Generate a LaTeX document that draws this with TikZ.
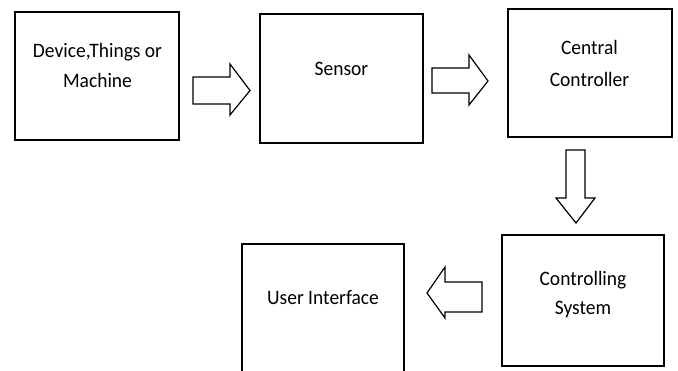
\documentclass[tikz,border=0pt]{standalone}
\usepackage{fontspec}
\usepackage{graphicx}
\setmainfont{Carlito}

% slightly narrowed lettering
\newcommand\nrw[1]{\scalebox{0.95}[1]{#1}}

\tikzset{
  box/.style={draw=black, line width=1.2pt, rectangle, inner sep=0pt},
  txt/.style={anchor=base, inner sep=0pt, text=black,
              font=\fontsize{20.5}{24}\selectfont},
  blockarrow/.style={draw=black, line width=1.2pt, fill=white, line join=miter},
}

\begin{document}
\begin{tikzpicture}[x=1pt, y=-1pt]
  \useasboundingbox (0,0) rectangle (678,371);
  \clip (0,0) rectangle (678,371);

  % boxes
  \node[box, minimum width=164pt, minimum height=128pt] (dev)  at (97,76) {};
  \node[box, minimum width=163pt, minimum height=129pt] (sen)  at (341.5,78.5) {};
  \node[box, minimum width=164pt, minimum height=128pt] (cc)   at (590,73) {};
  \node[box, minimum width=162pt, minimum height=131pt] (cs)   at (583,300.5) {};
  \node[box, minimum width=162pt, minimum height=140pt] (ui)   at (323,314) {};

  % labels
  \node[txt] (dev1) at (97.5,58) {\nrw{Device,Things or}};
  \node[txt] (dev2) at (97.5,88) {\nrw{Machine}};
  \node[txt] (sen1) at (341.5,75.5) {\nrw{Sensor}};
  \node[txt] (cc1)  at (589.5,55) {\nrw{Central}};
  \node[txt] (cc2)  at (589.5,87) {\nrw{Controller}};
  \node[txt] (cs1)  at (583,286) {\nrw{Controlling}};
  \node[txt] (cs2)  at (583,315) {\nrw{System}};
  \node[txt] (ui1)  at (323,305) {\nrw{User Interface}};

  % hollow block arrows between the stages
  \draw[blockarrow] (193,77) -- (230,77) -- (230,64) -- (250,90.5)
        -- (230,115) -- (230,104) -- (193,104) -- cycle;
  \draw[blockarrow] (432,68) -- (469,68) -- (469,55) -- (488,81)
        -- (469,105) -- (469,93) -- (432,93) -- cycle;
  \draw[blockarrow] (566,150) -- (585,150) -- (585,198) -- (595,198)
        -- (576,223) -- (556,198) -- (566,198) -- cycle;
  \draw[blockarrow] (482,282) -- (445,282) -- (445,267) -- (427,293)
        -- (445,318) -- (445,312) -- (482,312) -- cycle;
\end{tikzpicture}
\end{document}
